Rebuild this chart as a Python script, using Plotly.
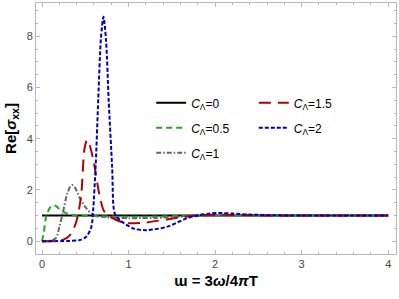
import plotly.graph_objects as go

# ---- data ----
x_c0 = [0.0, 4.0]
y_c0 = [1.0, 1.0]

x_c05 = [0.0, 0.02, 0.05, 0.09, 0.13, 0.16, 0.2, 0.28, 0.39, 0.6, 0.8, 1.0, 1.3, 1.7, 2.0, 3.0, 4.0]
y_c05 = [0.0, 0.35, 1.0, 1.3, 1.4, 1.38, 1.25, 1.09, 1.0, 0.98, 0.96, 0.95, 0.96, 0.99, 1.0, 1.0, 1.0]

x_c1 = [0.0, 0.1, 0.16, 0.2, 0.24, 0.29, 0.33, 0.35, 0.38, 0.43, 0.51, 0.59, 0.7, 0.85, 1.0, 1.3, 1.7, 2.0, 3.0, 4.0]
y_c1 = [0.0, 0.03, 0.12, 0.56, 1.1, 1.85, 2.15, 2.19, 2.1, 1.73, 1.29, 1.02, 0.95, 0.91, 0.9, 0.91, 0.97, 1.0, 1.0, 1.0]

x_c15 = [0.0, 0.15, 0.24, 0.32, 0.39, 0.45, 0.49, 0.52, 0.55, 0.6, 0.66, 0.72, 0.82, 0.96, 1.17, 1.44, 1.71, 1.86, 2.05, 2.3, 2.6, 3.0, 4.0]
y_c15 = [0.0, 0.01, 0.05, 0.23, 0.7, 1.73, 3.6, 3.95, 3.75, 3.04, 1.87, 1.15, 0.89, 0.71, 0.72, 0.85, 0.98, 1.02, 1.03, 1.02, 1.0, 1.0, 1.0]

x_c2 = [0.0, 0.3, 0.43, 0.51, 0.57, 0.59, 0.62, 0.65, 0.68, 0.71, 0.74, 0.77, 0.81, 0.84, 0.9, 1.06, 1.21, 1.44, 1.67, 1.83, 1.94, 2.05, 2.2, 2.4, 2.7, 3.0, 4.0]
y_c2 = [0.0, 0.01, 0.04, 0.17, 0.56, 1.2, 3.0, 5.6, 7.9, 8.76, 7.8, 5.5, 2.9, 1.08, 0.82, 0.49, 0.43, 0.56, 0.89, 1.03, 1.08, 1.1, 1.08, 1.04, 1.01, 1.0, 1.0]

names = ["<i>C</i><sub>Λ</sub>=0", "<i>C</i><sub>Λ</sub>=0.5", "<i>C</i><sub>Λ</sub>=1",
         "<i>C</i><sub>Λ</sub>=1.5", "<i>C</i><sub>Λ</sub>=2"]

fig = go.Figure()
series = [
    (x_c0, y_c0, names[0], "#000000", "solid", "legend"),
    (x_c05, y_c05, names[1], "#1fa81f", "6px,4px", "legend"),
    (x_c1, y_c1, names[2], "#666666", "5px,2px,1.5px,2px", "legend"),
    (x_c15, y_c15, names[3], "#b30000", "12px,7px", "legend2"),
    (x_c2, y_c2, names[4], "#0000b0", "4px,2px", "legend2"),
]
for i, (xs, ys, nm, col, dash, lg) in enumerate(series):
    fig.add_trace(go.Scatter(
        x=xs, y=ys, name=nm, mode="lines", legend=lg, legendgroup=f"g{i}",
        line=dict(color=col, width=2, dash=dash, shape="spline", smoothing=0.8),
    ))

axis_common = dict(
    showline=True, linecolor="#b8b8b8", linewidth=1, mirror="ticks",
    ticks="inside", ticklen=4, tickcolor="#b8b8b8", tickwidth=1,
    showgrid=False, zeroline=False, automargin=False,
    tickfont=dict(family="Liberation Sans, Arial", size=11, color="#444444"),
)

fig.update_layout(
    width=399, height=299,
    margin=dict(l=36, r=3, t=3, b=45),
    plot_bgcolor="white", paper_bgcolor="white",
    font=dict(family="Liberation Sans, Arial", color="#000000"),
    xaxis=dict(range=[-0.07, 4.09], dtick=1, tick0=0,
               minor=dict(dtick=0.2, ticks="inside", ticklen=2, tickcolor="#b8b8b8"),
               title=dict(text="<b>ɯ = 3<i>ω</i>/4<i>π</i>T</b>", font=dict(size=15), standoff=6),
               **axis_common),
    yaxis=dict(range=[-0.5, 9.3], dtick=2, tick0=0,
               minor=dict(dtick=0.5, ticks="inside", ticklen=2, tickcolor="#b8b8b8"),
               title=dict(text="<b>Re[<i>σ</i><sub>xx</sub>]</b>", font=dict(size=15), standoff=6),
               **axis_common),
    legend=dict(x=0.32, y=0.66, xanchor="left", yanchor="top", bgcolor="rgba(0,0,0,0)",
                font=dict(size=12), tracegroupgap=6, itemwidth=30),
    legend2=dict(x=0.605, y=0.66, xanchor="left", yanchor="top", bgcolor="rgba(0,0,0,0)",
                 font=dict(size=12), tracegroupgap=6, itemwidth=30),
    showlegend=True,
)

fig.write_html("out.html", config={"displayModeBar": False},
               post_script="document.body.style.margin='0';")
